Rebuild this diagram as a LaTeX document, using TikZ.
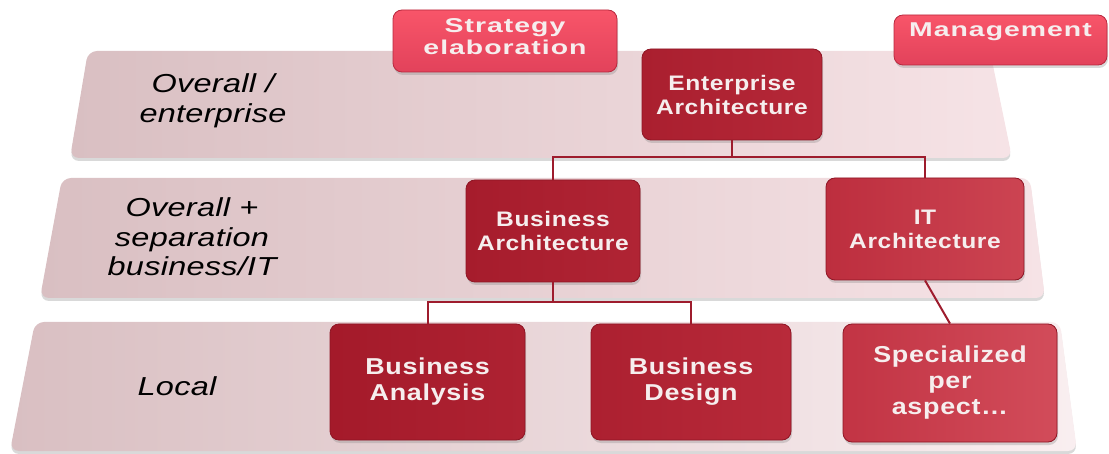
\documentclass[tikz,border=0pt]{standalone}
\usepackage{fontspec}
\setmainfont{Liberation Sans}
\newfontfamily\boxfont[FakeStretch=1.17,LetterSpace=3]{Liberation Sans Bold}
\newfontfamily\tabfont[FakeStretch=1.42,LetterSpace=5]{Liberation Sans Bold}
\newfontfamily\levelfont[FakeStretch=1.25,LetterSpace=1]{Liberation Sans Italic}
\usetikzlibrary{shadows}

\definecolor{linkred}{HTML}{9E1C2D}
\definecolor{bandL}{HTML}{D9BFC2}
\definecolor{bandR}{HTML}{F6E3E6}
\definecolor{tabTop}{HTML}{F85569}
\definecolor{tabBot}{HTML}{E2425B}
\definecolor{tabEdge}{HTML}{B8283E}
\definecolor{archEdge}{HTML}{8E1524}
\definecolor{boxtext}{HTML}{F6EEEE}

\begin{document}
\begin{tikzpicture}[x=1pt,y=-1pt,
  band/.style={rounded corners=9pt,
    drop shadow={shadow xshift=0pt,shadow yshift=-3pt,opacity=0.25,fill=black!60}},
  level/.style={font=\levelfont\fontsize{26}{29.5}\selectfont, align=center, text=black},
  archbox/.style={rounded corners=9pt, draw=archEdge, line width=0.8pt,
    text=boxtext, align=center, inner sep=0pt,
    font=\boxfont\fontsize{21}{24}\selectfont,
    drop shadow={shadow xshift=1pt,shadow yshift=-3pt,opacity=0.3}},
  lowbox/.style={archbox, font=\boxfont\fontsize{23}{26}\selectfont},
  tabbox/.style={rounded corners=9pt, draw=tabEdge, line width=0.8pt,
    top color=tabTop, bottom color=tabBot,
    text=boxtext, align=center, inner sep=0pt,
    font=\tabfont\fontsize{20}{22}\selectfont,
    drop shadow={shadow xshift=1pt,shadow yshift=-3pt,opacity=0.3}},
  link/.style={draw=linkred, line width=2pt}
]
\useasboundingbox (0,0) rectangle (1109,454);

% level bands
\path[band, left color=bandL, right color=bandR]
  (88,51) -- (990,51) -- (1012,158) -- (70,158) -- cycle;
\path[band, left color=bandL, right color=bandR]
  (62,178) -- (1030,178) -- (1045,298) -- (40,298) -- cycle;
\path[band, left color=bandL, right color=bandR!60!white]
  (35,322) -- (1060,322) -- (1077,451) -- (10,451) -- cycle;

% level labels
\node[level] (lvl1) at (213,101) {Overall /\\enterprise};
\node[level] (lvl2) at (192,237) {Overall +\\separation\\business/IT};
\node[level] (lvl3) at (177,386) {Local};

% tabs above the top band
\node[tabbox, minimum width=224pt, minimum height=62pt, text depth=9pt] (strat) at (505,41) {Strategy\\elaboration};
\node[tabbox, minimum width=213pt, minimum height=50pt, text depth=20pt] (mgmt) at (1000.5,40) {Management};

% architecture boxes
\node[archbox, left color={rgb,255:red,170;green,31;blue,47}, right color={rgb,255:red,181;green,40;blue,56},
  minimum width=180pt, minimum height=91pt] (ea) at (732,94.5) {Enterprise\\Architecture};
\node[archbox, left color={rgb,255:red,166;green,28;blue,44}, right color={rgb,255:red,176;green,36;blue,52},
  minimum width=174pt, minimum height=102pt] (ba) at (553,231) {Business\\Architecture};
\node[archbox, left color={rgb,255:red,189;green,46;blue,62}, right color={rgb,255:red,204;green,68;blue,82},
  minimum width=198pt, minimum height=102pt] (it) at (925,229) {IT\\Architecture};
\node[lowbox, left color={rgb,255:red,164;green,26;blue,42}, right color={rgb,255:red,174;green,34;blue,50},
  minimum width=195pt, minimum height=116pt] (ban) at (427.5,382) {Business\\Analysis};
\node[lowbox, left color={rgb,255:red,172;green,32;blue,48}, right color={rgb,255:red,184;green,42;blue,58},
  minimum width=200pt, minimum height=116pt] (bd) at (691,382) {Business\\Design};
\node[lowbox, left color={rgb,255:red,194;green,52;blue,68}, right color={rgb,255:red,210;green,76;blue,90},
  minimum width=214pt, minimum height=118pt] (spec) at (950,383) {Specialized\\per\\aspect\ldots};

% connectors
\coordinate (bus1) at (0,157);
\coordinate (bus2) at (0,302);
\draw[link] (ea.south) -- (ea.south |- bus1) -| (ba.north);
\draw[link] (ea.south |- bus1) -| (it.north);
\draw[link] (ba.south) -- (ba.south |- bus2) -| (ban.north);
\draw[link] (ba.south |- bus2) -| (bd.north);
\draw[link] (it.south) -- (spec.north);
\end{tikzpicture}
\end{document}
